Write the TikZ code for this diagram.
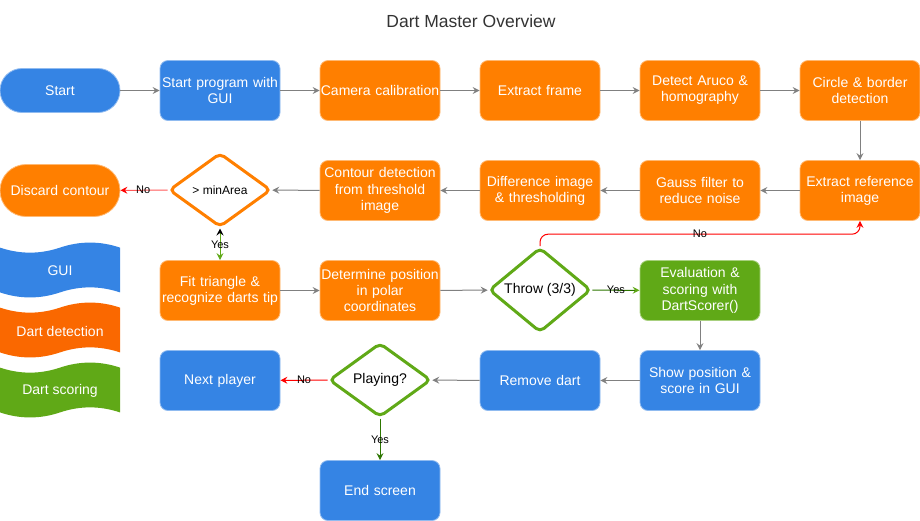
\documentclass[tikz,border=0pt]{standalone}
\usepackage{fontspec}
\setmainfont{Liberation Sans}
\usetikzlibrary{shapes.geometric,arrows.meta}
\definecolor{cblue}{HTML}{3584E4}
\definecolor{corange}{HTML}{FF7F00}
\definecolor{lorange}{HTML}{FA6800}
\definecolor{cgreen}{HTML}{60A917}
\definecolor{dgreen}{HTML}{2D7600}
\definecolor{cgray}{HTML}{808080}
\definecolor{ctitle}{HTML}{333333}
\begin{document}
\begin{tikzpicture}[x=1pt,y=-1pt,
  every node/.style={font=\fontsize{14}{16.2}\selectfont},
  box/.style={rounded corners=8pt, minimum width=120pt, minimum height=60pt,
    text width=120pt, align=center, text=white, inner sep=0pt, line width=0.8pt},
  bluebox/.style={box, fill=cblue, draw=cblue!55!white},
  orbox/.style={box, fill=corange, draw=corange!55!white},
  grbox/.style={box, fill=cgreen, draw=cgreen!55!white},
  dia/.style={diamond, fill=white, line width=3pt, minimum width=102pt,
    minimum height=74pt, inner sep=0pt, rounded corners=5pt, text=black},
  conn/.style={draw=cgray, line width=1pt, -{Stealth[length=7pt,width=7pt,inset=2.5pt]}},
  lbl/.style={font=\fontsize{11}{13}\selectfont, text=black, inner sep=1pt}
]
\useasboundingbox (0,0) rectangle (920,520);

\node[text=ctitle, font=\fontsize{17.5}{20}\selectfont] (title) at (471,21) {Dart Master Overview};

% row 1
\node[box, fill=cblue, draw=cblue!55!white, minimum height=44pt, rounded corners=22pt] (start) at (60,90.5) {Start};
\node[bluebox] (prog) at (220,90.5) {Start program with\\GUI};
\node[orbox] (calib) at (380,90.5) {Camera calibration};
\node[orbox] (frame) at (540,90.5) {Extract frame};
\node[orbox] (aruco) at (700,90.5) {Detect Aruco \&\\homography};
\node[orbox] (circle) at (860,90.5) {Circle \& border\\detection};

% row 2
\node[box, fill=corange, draw=corange!55!white, minimum height=52pt, rounded corners=26pt] (discard) at (60,190.5) {Discard contour};
\node[dia, draw=corange, font=\fontsize{12}{14}\selectfont] (area) at (220,190) {> minArea};
\node[orbox] (contour) at (380,190.5) {Contour detection\\from threshold\\image};
\node[orbox] (diff) at (540,190.5) {Difference image\\\& thresholding};
\node[orbox] (gauss) at (700,190.5) {Gauss filter to\\reduce noise};
\node[orbox] (extref) at (860,190.5) {Extract reference\\image};

% row 3
\node[orbox] (fit) at (220,290.5) {Fit triangle \&\\recognize darts tip};
\node[orbox] (polar) at (380,290.5) {Determine position\\in polar\\coordinates};
\node[dia, draw=cgreen] (throw) at (540,290) {Throw (3/3)};
\node[grbox] (eval) at (700,290.5) {Evaluation \&\\scoring with\\DartScorer()};

% row 4
\node[bluebox] (next) at (220,380.5) {Next player};
\node[dia, draw=cgreen] (play) at (380,380) {Playing?};
\node[bluebox] (remove) at (540,380.5) {Remove dart};
\node[bluebox] (show) at (700,380.5) {Show position \&\\score in GUI};
\node[bluebox] (endscr) at (380,490.5) {End screen};

% legend tapes
\begin{scope}[shift={(0,242)}]
\fill[cblue] (0,5.6) .. controls (20,12.32) and (40,12.32) .. (60,5.6) .. controls (80,-1.12) and (100,-1.12) .. (120,5.6) -- (120,50.4) .. controls (100,43.68) and (80,43.68) .. (60,50.4) .. controls (40,57.12) and (20,57.12) .. (0,50.4) -- cycle;
\node[text=white] (lgui) at (60,29) {GUI};
\end{scope}
\begin{scope}[shift={(0,302)}]
\fill[lorange] (0,5.6) .. controls (20,12.32) and (40,12.32) .. (60,5.6) .. controls (80,-1.12) and (100,-1.12) .. (120,5.6) -- (120,50.4) .. controls (100,43.68) and (80,43.68) .. (60,50.4) .. controls (40,57.12) and (20,57.12) .. (0,50.4) -- cycle;
\node[text=white] (ldet) at (60,29) {Dart detection};
\end{scope}
\begin{scope}[shift={(0,362)}]
\fill[cgreen] (0,5.6) .. controls (20,12.32) and (40,12.32) .. (60,5.6) .. controls (80,-1.12) and (100,-1.12) .. (120,5.6) -- (120,50.4) .. controls (100,43.68) and (80,43.68) .. (60,50.4) .. controls (40,57.12) and (20,57.12) .. (0,50.4) -- cycle;
\node[text=white] (lsco) at (60,29) {Dart scoring};
\end{scope}

% connectors
\draw[conn] (start) -- (prog);
\draw[conn] (prog) -- (calib);
\draw[conn] (calib) -- (frame);
\draw[conn] (frame) -- (aruco);
\draw[conn] (aruco) -- (circle);
\draw[conn] (circle) -- (extref);
\draw[conn] (extref) -- (gauss);
\draw[conn] (gauss) -- (diff);
\draw[conn] (diff) -- (contour);
\draw[conn] (contour) -- (area);
\draw[line width=1pt, draw=red!65, -{Stealth[length=7pt,width=7pt,inset=2.5pt,red]}] (area) -- (discard) node[lbl, pos=0.52] {No};
\draw[line width=1pt, draw=cgreen, {Stealth[length=7pt,width=7pt,inset=2.5pt,black]}-{Stealth[length=7pt,width=7pt,inset=2.5pt]}] (area) -- (fit) node[lbl, midway] {Yes};
\draw[conn] (fit) -- (polar);
\draw[conn] (polar) -- (throw);
\draw[line width=1pt, draw=dgreen, -{Stealth[length=7pt,width=7pt,inset=2.5pt,cgreen]}] (throw) -- (eval) node[lbl, midway] {Yes};
\draw[line width=1pt, draw=red, rounded corners=8pt, -{Stealth[length=7pt,width=7pt,inset=2.5pt]}] (throw.north) -- ++(0,-12) -| (extref.south) node[lbl, pos=0.25] {No};
\draw[conn] (eval) -- (show);
\draw[conn] (show) -- (remove);
\draw[conn] (remove) -- (play);
\draw[line width=1pt, draw=red, -{Stealth[length=7pt,width=7pt,inset=2.5pt]}] (play) -- (next) node[lbl, midway] {No};
\draw[line width=1pt, draw=dgreen, -{Stealth[length=7pt,width=7pt,inset=2.5pt]}] (play) -- (endscr) node[lbl, pos=0.5] {Yes};
\end{tikzpicture}
\end{document}
